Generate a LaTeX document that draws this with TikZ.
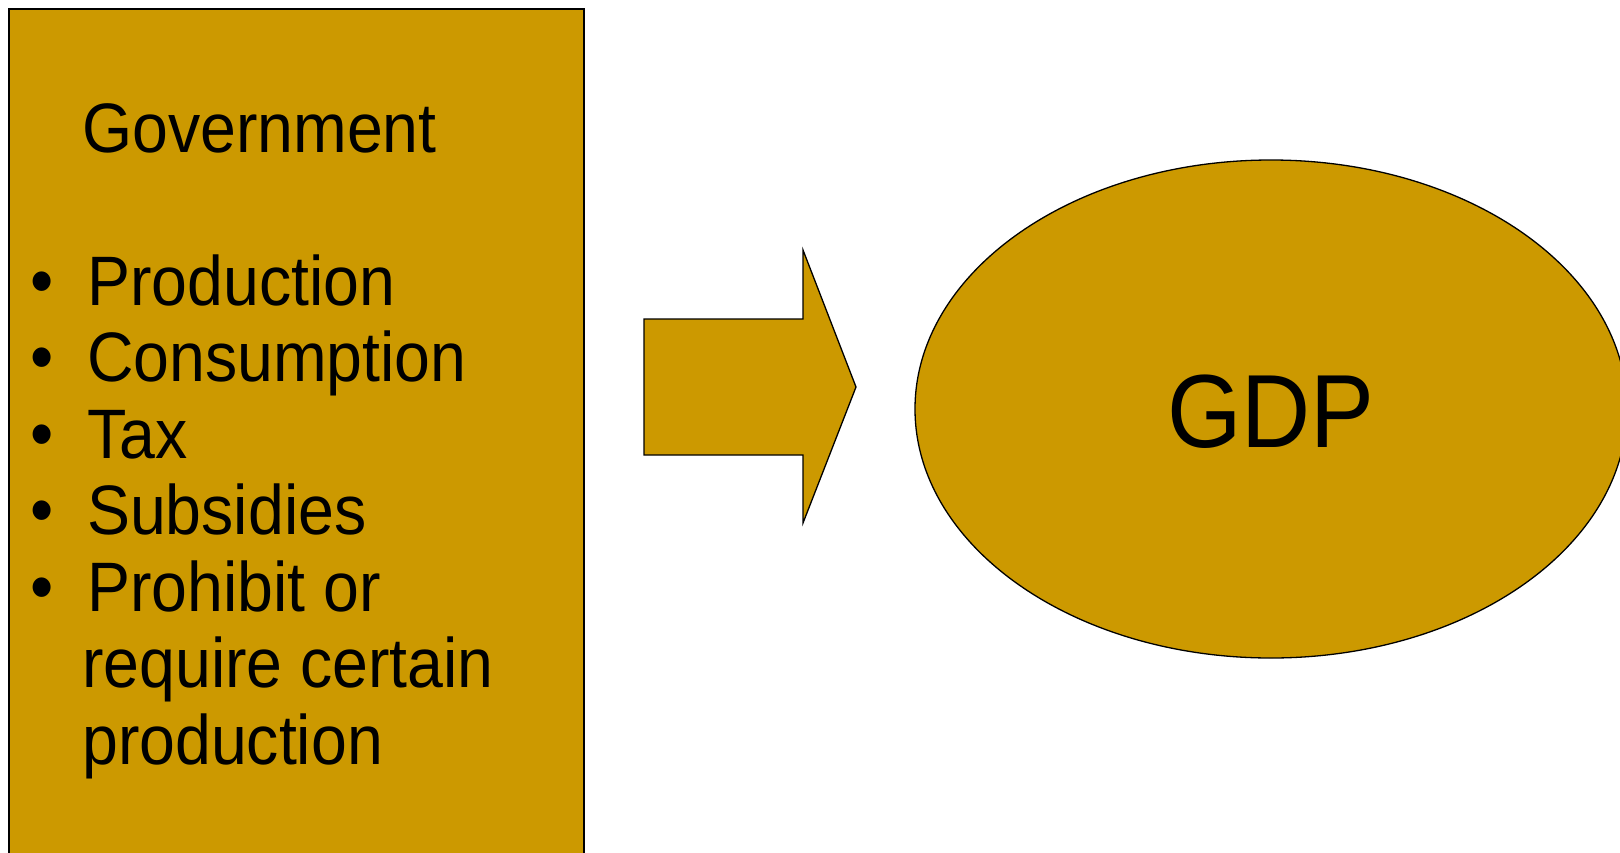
\documentclass[tikz,border=0pt]{standalone}
\usepackage{fontspec}
\setmainfont{Liberation Sans}[FakeStretch=0.92]
\usetikzlibrary{shapes.geometric}
\definecolor{gold}{RGB}{204,153,0}
\tikzset{
  shapefill/.style={fill=gold, draw=black, line width=1.3pt},
  bodytext/.style={anchor=base west, inner sep=0pt, font=\fontsize{70}{76}\selectfont},
  bullettext/.style={anchor=base, inner sep=0pt, font=\fontsize{72}{76}\selectfont},
}
\begin{document}
\begin{tikzpicture}[x=1pt,y=-1pt]
\useasboundingbox (0,0) rectangle (1620,852);
\clip (0,0) rectangle (1620,852);
% left box
\node[shapefill, rectangle, minimum width=575pt, minimum height=900pt, inner sep=0pt] (box) at (296.5,459) {};
% arrow
\coordinate (a1) at (644,319);
\coordinate (a2) at (803,319);
\coordinate (a3) at (803,250);
\coordinate (tip) at (856,387);
\coordinate (a5) at (803,523);
\coordinate (a6) at (803,455);
\coordinate (a7) at (644,455);
\draw[shapefill, line join=miter] (a1) -- (a2) -- (a3) -- (tip) -- (a5) -- (a6) -- (a7) -- cycle;
% ellipse
\node[shapefill, ellipse, minimum width=712pt, minimum height=498pt, inner sep=0pt] (gdp) at (1271,409) {};
\node[anchor=base, inner sep=0pt, font=\fontsize{104}{110}\selectfont] (gdptext) at (1271,447) {GDP};
% texts
\node[bodytext] (gov) at (82,152) {Government};
\node[bullettext] (b1) at (42,305) {•};
\node[bodytext] (t1) at (87,305) {Production};
\node[bullettext] (b2) at (42,381.5) {•};
\node[bodytext] (t2) at (87,381.5) {Consumption};
\node[bullettext] (b3) at (42,458) {•};
\node[bodytext] (t3) at (87,458) {Tax};
\node[bullettext] (b4) at (42,534.5) {•};
\node[bodytext] (t4) at (87,534.5) {Subsidies};
\node[bullettext] (b5) at (42,611) {•};
\node[bodytext] (t5) at (87,611) {Prohibit or};
\node[bodytext] (t6) at (82,687.5) {require certain};
\node[bodytext] (t7) at (82,764) {production};
\end{tikzpicture}
\end{document}
